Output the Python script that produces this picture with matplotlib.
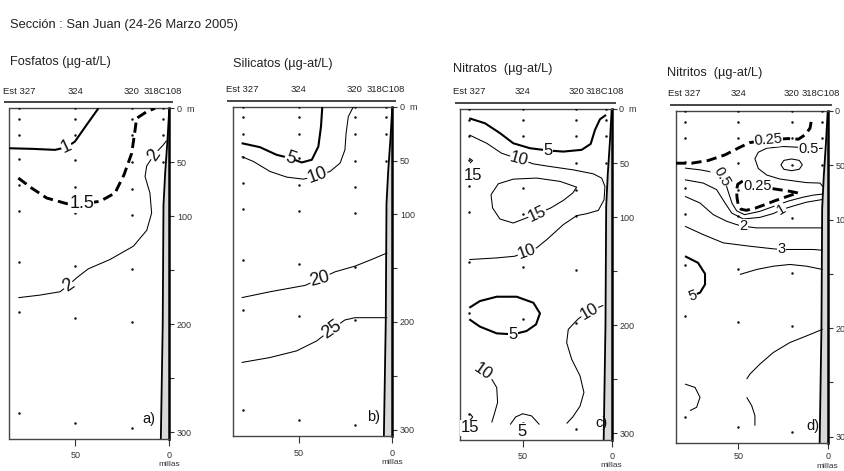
import matplotlib
matplotlib.use('Agg')
import matplotlib.pyplot as plt
from matplotlib import font_manager as fm


def pick(names):
    for n in names:
        try:
            fm.findfont(fm.FontProperties(family=n), fallback_to_default=False)
            return n
        except Exception:
            pass
    return 'DejaVu Sans'


MAIN = pick(['Liberation Sans', 'Arial'])
NARROW = pick(['Liberation Sans Narrow', 'DejaVu Sans Condensed'])
plt.rcParams['font.family'] = [MAIN, 'DejaVu Sans']

# ---------------- data ----------------
main_title = 'Sección : San Juan (24-26 Marzo 2005)'
panel_titles = ['Fosfatos (µg-at/L)', 'Silicatos (µg-at/L)',
                'Nitratos  (µg-at/L)', 'Nitritos  (µg-at/L)']
panel_tags = ['a)', 'b)', 'c)', 'd)']
station_names = ['Est 327', '324', '320', '318C108']
station_miles = [80, 50, 20, 3.7]
depth_ticks = [0, 50, 100, 150, 200, 250, 300]
depth_ticklabels = ['0  m', '50', '100', '', '200', '', '300']
mile_ticks = [50, 0]
mile_ticklabels = ['50', '0']

sample_x = [80, 50, 20, 3.4]
sample_depths = [[0, 10, 25, 47, 71, 95, 142, 189, 282],
                 [0, 10, 25, 48, 73, 97, 146, 194, 291],
                 [0, 10, 25, 50, 75, 99, 149, 198, 296],
                 [0, 10, 25, 50]]

bathy_miles = [0, 1.0, 2.2, 3.1, 3.5, 4.5]
bathy_depth = [0, 30, 60, 90, 200, 306]

# Fosfatos contours (miles, depth m)
fos_1 = [(85.1, 37.0), (72.3, 37.6), (60.8, 38.5), (54.6, 36.0), (50.2, 30.8), (44.0, 15.4), (37.7, 0.0)]
fos_15 = [(80.3, 64.6), (73.2, 73.9), (65.2, 83.1), (54.6, 88.3), (46.6, 88.3), (36.9, 86.2), (28.9, 78.5),
          (24.1, 61.6), (20.0, 41.6), (18.2, 20.0), (17.4, 9.3), (12.0, 3.1), (7.6, 0.0)]
fos_2 = [(80.3, 175.4), (68.8, 173.0), (58.1, 169.9), (53.7, 164.0), (49.3, 157.0), (43.1, 148.7),
         (31.5, 140.0), (19.1, 127.7), (12.0, 113.0), (9.4, 97.0), (10.3, 78.5), (12.9, 63.1),
         (12.0, 53.3), (8.1, 43.1), (3.2, 33.9), (1.5, 30.0)]

# Silicatos contours
sil_5 = [(80.5, 33.9), (70.7, 37.6), (61.8, 44.7), (54.6, 47.8), (48.4, 51.8), (43.0, 49.3), (39.5, 37.0),
         (38.1, 18.5), (37.4, 0.0)]
sil_10 = [(80.5, 46.3), (74.2, 50.9), (65.3, 60.2), (56.4, 65.4), (47.5, 67.3), (40.0, 64.2), (33.3, 60.2),
          (27.9, 52.4), (25.3, 40.1), (24.7, 24.7), (23.5, 9.2), (20.8, 0.0)]
sil_20 = [(80.5, 177.4), (65.3, 171.9), (46.6, 166.0), (38.6, 159.8), (30.6, 153.4), (19.9, 148.1),
          (11.0, 141.9), (2.7, 135.8)]
sil_25 = [(80.5, 237.6), (65.3, 233.0), (51.1, 226.8), (40.4, 217.6), (32.4, 206.8), (25.3, 198.1),
          (19.9, 196.0), (2.7, 196.0)]

# Nitratos contours
nit_5a = [(80.0, 8.6), (71.2, 13.2), (62.7, 22.4), (55.3, 31.7), (45.9, 36.3), (35.6, 38.4), (27.2, 39.4),
          (16.9, 37.8), (11.8, 32.3), (9.4, 19.4), (6.6, 9.5), (3.2, 5.5)]
nit_10a = [(80.0, 24.0), (70.2, 31.7), (61.9, 40.9), (51.9, 46.4), (44.0, 50.8), (34.7, 53.2), (21.6, 56.3),
           (10.3, 60.0), (5.6, 64.0), (3.8, 71.6), (4.3, 84.0), (7.5, 93.8), (14.1, 96.9), (19.7, 98.7),
           (27.2, 107.0), (36.5, 120.9), (42.2, 128.5), (47.8, 131.6), (54.3, 136.2), (64.6, 137.8),
           (80.0, 139.3)]
nit_15a = [(19.7, 72.3), (29.0, 67.0), (42.2, 63.9), (55.3, 64.9), (63.7, 69.2), (67.8, 79.3), (66.9, 91.6),
           (62.8, 101.8), (55.3, 105.5), (41.8, 96.9), (34.3, 91.6), (27.2, 84.6), (21.9, 77.8), (19.7, 72.3)]
nit_15b = [(80.0, 45.5), (78.2, 47.7), (79.6, 50.1)]
nit_5b = [(80.0, 183.9), (74.0, 177.7), (64.6, 173.7), (53.4, 173.7), (44.0, 179.3), (40.3, 189.1),
          (42.5, 199.3), (47.8, 205.4), (55.3, 208.5), (64.6, 207.6), (74.0, 201.4), (80.0, 194.6)]
nit_10b = [(4.7, 181.7), (12.6, 187.0), (18.7, 194.0), (24.4, 203.9), (25.3, 216.2), (22.5, 231.5),
           (17.8, 246.9), (15.6, 262.3), (17.8, 275.0), (21.9, 285.0), (25.3, 291.0)]
nit_10c = [(67.4, 250.0), (64.6, 257.7), (64.1, 271.5), (65.9, 282.0), (67.4, 290.0)]
nit_15c = [(79.6, 282.0), (78.1, 285.0), (79.6, 288.0)]
nit_5c = [(57.0, 292.0), (54.0, 285.0), (50.0, 282.0), (45.0, 284.0), (40.6, 292.0)]

# Nitritos contours
nii_025a = [(84.85, 48.1), (76.1, 48.1), (66.8, 45.6), (57.4, 40.4), (49.1, 33.4), (43.5, 29.1), (33.2, 26.6),
            (22.0, 25.4), (16.4, 26.0), (12.7, 22.0), (9.9, 15.9), (9.0, 7.6)]
nii_05a = [(2.8, 34.3), (6.2, 34.8), (10.8, 35.2), (15.5, 33.5), (24.8, 32.7), (34.1, 34.3), (38.8, 38.0),
           (40.7, 44.0), (38.8, 53.0), (34.1, 59.0), (26.7, 62.7), (11.8, 66.0), (4.3, 66.4), (2.8, 69.5)]
nii_ell = [(26.2, 49.6), (24.5, 45.5), (20.2, 44.2), (15.9, 45.5), (14.2, 49.6), (15.9, 53.7), (20.2, 55.0),
           (24.5, 53.7), (26.2, 49.6)]
nii_05b = [(79.8, 52.6), (71.4, 54.2), (64.0, 56.5), (59.3, 60.3), (57.0, 67.0), (55.3, 76.0), (53.5, 85.0),
           (50.9, 92.0), (46.5, 95.5), (38.0, 92.5), (30.4, 88.0), (22.0, 83.0), (14.0, 79.5), (8.0, 77.5),
           (2.8, 76.5)]
nii_025b_side = [(47.5, 64.5), (50.3, 67.5), (51.0, 73.0), (50.7, 80.0), (50.0, 87.0), (48.5, 90.5),
                 (45.5, 91.5), (40.5, 89.5), (35.5, 86.5), (30.0, 83.0), (24.0, 79.5), (19.5, 77.0),
                 (16.4, 75.6)]
nii_025b_top = [(39.4, 69.5), (33.0, 71.0), (27.0, 72.5), (21.0, 74.0), (16.4, 75.6)]
nii_1 = [(79.8, 63.4), (69.6, 66.4), (62.1, 72.5), (57.4, 84.8), (53.7, 94.0), (47.2, 99.5), (37.9, 98.0),
         (30.4, 94.5), (25.75, 90.9), (19.2, 87.5), (11.8, 84.0), (2.8, 81.5)]
nii_2 = [(79.8, 78.7), (71.4, 84.8), (64.0, 95.5), (56.5, 101.6), (50.9, 104.7), (47.2, 106.2), (39.7, 107.7),
         (26.7, 107.7), (15.5, 107.7), (2.8, 107.7)]
nii_3 = [(79.8, 106.2), (69.6, 113.9), (58.4, 121.5), (43.5, 124.6), (30.4, 127.0), (25.75, 127.6),
         (17.4, 127.6), (8.0, 127.6), (2.8, 128.3)]
nii_4 = [(49.1, 150.6), (39.7, 146.0), (30.4, 143.0), (21.1, 141.4), (11.8, 143.0), (2.8, 146.0)]
nii_5 = [(79.8, 133.8), (72.5, 139.9), (68.6, 150.0), (68.6, 159.8), (71.4, 167.4), (75.5, 170.0)]
nii_6 = [(2.8, 201.1), (11.8, 207.2), (21.1, 213.3), (30.4, 222.5), (37.9, 233.2), (43.5, 242.4), (45.3, 247.0)]
nii_7 = [(79.8, 251.6), (74.2, 254.7), (71.4, 263.8), (73.3, 273.0), (77.0, 276.1)]
nii_8 = [(45.3, 263.8), (42.5, 271.5), (40.7, 280.7), (40.7, 289.9)]

# (line, style, [(label, x, depth, rotation)])
contours = [
    [(fos_1, 'thick', [('1', 54.6, 36.0, 25)]),
     (fos_15, 'dash', [('1.5', 46.6, 88.3, 0)]),
     (fos_2, 'thin', [('2', 53.7, 164.0, 35), ('2', 8.1, 43.1, 55)])],
    [(sil_5, 'thick', [('5', 54.6, 47.8, -20)]),
     (sil_10, 'thin', [('10', 40.0, 64.2, 20)]),
     (sil_20, 'thin', [('20', 38.6, 159.8, 15)]),
     (sil_25, 'thin', [('25', 32.4, 206.8, 35)])],
    [(nit_5a, 'thick', [('5', 35.6, 38.4, 0)]),
     (nit_10a, 'thin', [('10', 51.9, 46.4, -15), ('10', 47.8, 131.6, 20)]),
     (nit_15a, 'thin', [('15', 41.8, 96.9, 25)]),
     (nit_15b, 'thin', [('15', 78.1, 61.8, 0)]),
     (nit_5b, 'thick', [('5', 55.3, 208.5, 0)]),
     (nit_10b, 'thin', [('10', 12.6, 187.0, 30)]),
     (nit_10c, 'thin', [('10', 72.5, 243.2, -35)]),
     (nit_15c, 'thin', [('15', 79.6, 295.0, 0)]),
     (nit_5c, 'thin', [('5', 50.6, 298.0, 0)])],
    [(nii_025a, 'dash', [('0.25', 33.2, 26.6, 5)]),
     (nii_05a, 'thin', [('0.5', 10.8, 35.2, 0)]),
     (nii_ell, 'thin', []),
     (nii_05b, 'thin', [('0.5', 59.3, 60.3, -60)]),
     (nii_025b_side, 'dash', []),
     (nii_025b_top, 'dash', [('0.25', 39.4, 69.5, 0)]),
     (nii_1, 'thin', [('1', 25.75, 90.9, 30)]),
     (nii_2, 'thin', [('2', 47.2, 106.2, 0)]),
     (nii_3, 'thin', [('3', 25.75, 127.6, 0)]),
     (nii_4, 'thin', []),
     (nii_5, 'thick', [('5', 75.5, 170.0, 20)]),
     (nii_6, 'thin', []),
     (nii_7, 'thin', []),
     (nii_8, 'thin', [])],
]
tag_pos = [(10.6, 287.7), (10.1, 288.6), (6.0, 291.0), (8.0, 289.9)]

# ---------------- layout (pixels) ----------------
W, H = 845, 471
boxes = [(9.5, 169.3, 108.3, 438.7), (233.2, 392.3, 106.7, 436.1),
         (460.4, 611.7, 109.0, 439.7), (675.7, 827.7, 111.0, 443.1)]
title_xy = [(10, 62), (233, 64), (453, 69), (667, 73)]
label_fs = [13, 13, 12, 10.5]
xtick_pad = [4, 4, 4, 2.5]
millas_off = [26, 26, 26, 23.5]
station_fs = 7.6 if NARROW != 'DejaVu Sans' else 6.8
station_family = [NARROW, MAIN] if NARROW != 'DejaVu Sans' else [MAIN, 'DejaVu Sans']

fig = plt.figure(figsize=(W / 100, H / 100), dpi=100)
fig.patch.set_facecolor('white')
fig.text(10 / W, 1 - 25 / H, main_title, fontsize=9.3, va='center', ha='left', color='#222')

styles = {'thin': dict(lw=0.75, color='k'),
          'thick': dict(lw=1.5, color='k'),
          'dash': dict(lw=2.1, color='k', dashes=(3.5, 1.8))}

for i in range(4):
    L, R, T, B = boxes[i]
    ax = fig.add_axes([L / W, 1 - B / H, (R - L) / W, (B - T) / H])
    hpx = B - T
    ax.set_xlim(85, 0)
    ax.set_ylim(306, 0)
    for s in ['left', 'top', 'bottom']:
        ax.spines[s].set_color('#444')
        ax.spines[s].set_linewidth(1.0)
    ax.spines['right'].set_color('k')
    ax.spines['right'].set_linewidth(1.8)

    ax.yaxis.tick_right()
    ax.set_yticks(depth_ticks)
    ax.set_yticklabels(depth_ticklabels)
    ax.tick_params(axis='y', direction='out', length=3.5, width=0.8, pad=2,
                   labelsize=6.5, labelcolor='#333', color='#333')
    ax.set_xticks(mile_ticks)
    ax.set_xticklabels(mile_ticklabels)
    ax.tick_params(axis='x', direction='out', length=5 if i < 3 else 4, width=0.8, pad=xtick_pad[i],
                   labelsize=6.5, labelcolor='#333', color='#333')
    ax.text(1.0, -millas_off[i] / hpx, 'millas', transform=ax.transAxes, ha='center', va='center',
            fontsize=6.0, color='#333', clip_on=False)

    # slope / bottom
    ax.fill_betweenx(bathy_depth, bathy_miles, 0, color='#d9d9d9', zorder=1, lw=0)
    ax.plot(bathy_miles, bathy_depth, color='k', lw=1.3, zorder=2)

    # sample points
    for sx, ds in zip(sample_x, sample_depths):
        ax.plot([sx] * len(ds), ds, ls='none', marker='o', ms=1.8, color='#111', mew=0, zorder=3)

    # contours
    for line, st, labs in contours[i]:
        xs = [p[0] for p in line]
        zs = [p[1] for p in line]
        ax.plot(xs, zs, zorder=4, solid_capstyle='butt', **styles[st])
        for txt, lx, lz, rot in labs:
            ax.text(lx, lz, txt, fontsize=label_fs[i], rotation=rot, rotation_mode='anchor',
                    ha='center', va='center', color='#111', zorder=6,
                    bbox=dict(facecolor='white', edgecolor='none', pad=0.3))

    ax.text(tag_pos[i][0], tag_pos[i][1], panel_tags[i], fontsize=10.5, ha='center', va='center',
            color='#111', zorder=6)

    # station header
    ax.plot([-0.03, 1.02], [1 + 6 / hpx, 1 + 6 / hpx], transform=ax.transAxes, color='#444',
            lw=1.4, clip_on=False)
    for nm, sm in zip(station_names, station_miles):
        ax.text(sm, 1 + 17 / hpx, nm, transform=ax.get_xaxis_transform(), ha='center', va='center',
                fontsize=station_fs, family=station_family, color='#222', clip_on=False)

    tx, ty = title_xy[i]
    fig.text(tx / W, 1 - ty / H, panel_titles[i], fontsize=9.2, ha='left', va='center', color='#222')

fig.savefig('out.png', dpi=100)
